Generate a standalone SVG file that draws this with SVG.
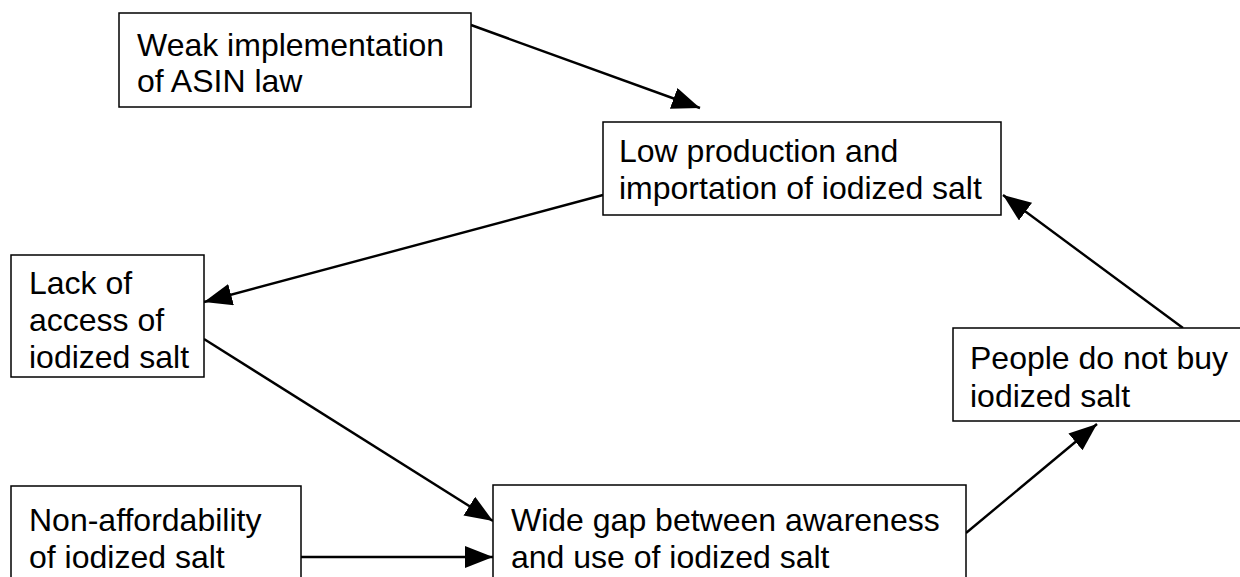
<svg xmlns="http://www.w3.org/2000/svg" width="1240" height="577" viewBox="0 0 1240 577">
<style>
.box{fill:#fff;stroke:#000;stroke-width:1.5}
.t{font-family:"Liberation Sans",Arial,sans-serif;font-size:32px;fill:#000}
.c{stroke:#000;stroke-width:2.4;fill:none;marker-end:url(#ah)}
</style>
<defs>
<marker id="ah" markerUnits="userSpaceOnUse" markerWidth="30" markerHeight="24" refX="28" refY="11" orient="auto">
<path d="M0,0 L28,11 L0,22 Z" fill="#000"/>
</marker>
</defs>
<rect width="1240" height="577" fill="#fff"/>
<g id="connectors">
<line class="c" x1="471" y1="25" x2="700" y2="108"/>
<line class="c" x1="603" y1="195" x2="204" y2="302"/>
<line class="c" x1="204" y1="339" x2="493" y2="521"/>
<line class="c" x1="301" y1="557" x2="493" y2="557"/>
<line class="c" x1="966" y1="533" x2="1097" y2="424"/>
<line class="c" x1="1183" y1="328" x2="1003" y2="195"/>
</g>
<g id="n-weak">
<rect class="box" x="119" y="13" width="352" height="94"/>
<text class="t" x="137" y="56">Weak implementation</text>
<text class="t" x="137" y="92">of ASIN law</text>
</g>
<g id="n-low">
<rect class="box" x="603" y="122" width="398" height="93"/>
<text class="t" x="619" y="162">Low production and</text>
<text class="t" x="619" y="199">importation of iodized salt</text>
</g>
<g id="n-lack">
<rect class="box" x="11" y="255" width="193" height="122"/>
<text class="t" x="29" y="294">Lack of</text>
<text class="t" x="29" y="331">access of</text>
<text class="t" x="29" y="368">iodized salt</text>
</g>
<g id="n-people">
<rect class="box" x="953" y="328" width="300" height="93"/>
<text class="t" x="970" y="369">People do not buy</text>
<text class="t" x="970" y="407">iodized salt</text>
</g>
<g id="n-nonaff">
<rect class="box" x="11" y="486" width="290" height="110"/>
<text class="t" x="29" y="531">Non-affordability</text>
<text class="t" x="29" y="568">of iodized salt</text>
</g>
<g id="n-gap">
<rect class="box" x="493" y="485" width="473" height="110"/>
<text class="t" x="511" y="531">Wide gap between awareness</text>
<text class="t" x="511" y="568">and use of iodized salt</text>
</g>
</svg>
